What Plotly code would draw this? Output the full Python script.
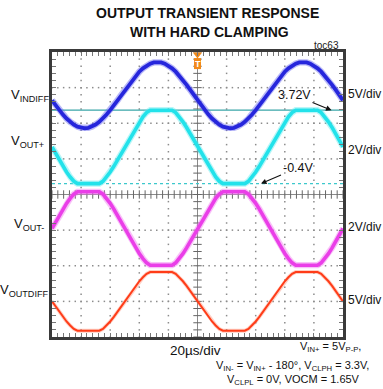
import plotly.graph_objects as go

# ---------------- data ----------------
TIME_US = [0, 2.5, 5, 7.5, 10, 12.5, 15, 17.5, 20, 22.5, 25, 27.5, 30, 32.5, 35, 37.5,
           40, 42.5, 45, 47.5, 50, 52.5, 55, 57.5, 60, 62.5, 65, 67.5, 70, 72.5, 75, 77.5,
           80, 82.5, 85, 87.5, 90, 92.5, 95, 97.5, 100, 102.5, 105, 107.5, 110, 112.5, 115,
           117.5, 120, 122.5, 125, 127.5, 130, 132.5, 135, 137.5, 140, 142.5, 145, 147.5,
           150, 152.5, 155, 157.5, 160, 162.5, 165, 167.5, 170, 172.5, 175, 177.5, 180,
           182.5, 185, 187.5, 190, 192.5, 195, 197.5, 200]

VINDIFF_V = [-0.73, -1.44, -2.11, -2.73, -3.29, -3.76, -4.14, -4.42, -4.59, -4.65,
             -4.59, -4.42, -4.14, -3.76, -3.29, -2.73, -2.11, -1.44, -0.73, 0.00,
             0.73, 1.44, 2.11, 2.73, 3.29, 3.76, 4.14, 4.42, 4.59, 4.65,
             4.59, 4.42, 4.14, 3.76, 3.29, 2.73, 2.11, 1.44, 0.73, 0.00,
             -0.73, -1.44, -2.11, -2.73, -3.29, -3.76, -4.14, -4.42, -4.59, -4.65,
             -4.59, -4.42, -4.14, -3.76, -3.29, -2.73, -2.11, -1.44, -0.73, 0.00,
             0.73, 1.44, 2.11, 2.73, 3.29, 3.76, 4.14, 4.42, 4.59, 4.65,
             4.59, 4.42, 4.14, 3.76, 3.29, 2.73, 2.11, 1.44, 0.73, 0.00, -0.73]

VOUT_P_V = [1.66, 1.29, 0.92, 0.57, 0.25, -0.03, -0.27, -0.40, -0.40, -0.40,
            -0.40, -0.40, -0.40, -0.40, -0.27, -0.03, 0.25, 0.57, 0.92, 1.29,
            1.66, 2.03, 2.40, 2.75, 3.07, 3.35, 3.59, 3.72, 3.72, 3.72,
            3.72, 3.72, 3.72, 3.72, 3.59, 3.35, 3.07, 2.75, 2.40, 2.03,
            1.66, 1.29, 0.92, 0.57, 0.25, -0.03, -0.27, -0.40, -0.40, -0.40,
            -0.40, -0.40, -0.40, -0.40, -0.27, -0.03, 0.25, 0.57, 0.92, 1.29,
            1.66, 2.03, 2.40, 2.75, 3.07, 3.35, 3.59, 3.72, 3.72, 3.72,
            3.72, 3.72, 3.72, 3.72, 3.59, 3.35, 3.07, 2.75, 2.40, 2.03, 1.66]

VOUT_M_V = [1.66, 2.03, 2.40, 2.75, 3.07, 3.35, 3.59, 3.72, 3.72, 3.72,
            3.72, 3.72, 3.72, 3.72, 3.59, 3.35, 3.07, 2.75, 2.40, 2.03,
            1.66, 1.29, 0.92, 0.57, 0.25, -0.03, -0.27, -0.40, -0.40, -0.40,
            -0.40, -0.40, -0.40, -0.40, -0.27, -0.03, 0.25, 0.57, 0.92, 1.29,
            1.66, 2.03, 2.40, 2.75, 3.07, 3.35, 3.59, 3.72, 3.72, 3.72,
            3.72, 3.72, 3.72, 3.72, 3.59, 3.35, 3.07, 2.75, 2.40, 2.03,
            1.66, 1.29, 0.92, 0.57, 0.25, -0.03, -0.27, -0.40, -0.40, -0.40,
            -0.40, -0.40, -0.40, -0.40, -0.27, -0.03, 0.25, 0.57, 0.92, 1.29, 1.66]

VOUTDIFF_V = [0.00, -0.74, -1.48, -2.18, -2.82, -3.38, -3.86, -4.12, -4.12, -4.12,
              -4.12, -4.12, -4.12, -4.12, -3.86, -3.38, -2.82, -2.18, -1.48, -0.74,
              0.00, 0.74, 1.48, 2.18, 2.82, 3.38, 3.86, 4.12, 4.12, 4.12,
              4.12, 4.12, 4.12, 4.12, 3.86, 3.38, 2.82, 2.18, 1.48, 0.74,
              0.00, -0.74, -1.48, -2.18, -2.82, -3.38, -3.86, -4.12, -4.12, -4.12,
              -4.12, -4.12, -4.12, -4.12, -3.86, -3.38, -2.82, -2.18, -1.48, -0.74,
              0.00, 0.74, 1.48, 2.18, 2.82, 3.38, 3.86, 4.12, 4.12, 4.12,
              4.12, 4.12, 4.12, 4.12, 3.86, 3.38, 2.82, 2.18, 1.48, 0.74, 0.00]

CLAMP_HIGH_V = 3.72
CLAMP_LOW_V = -0.4
VOLTS_PER_DIV = [5, 2, 2, 5]
CHANNEL_LABELS = ["V<sub>INDIFF</sub>", "V<sub>OUT+</sub>", "V<sub>OUT-</sub>", "V<sub>OUTDIFF</sub>"]
SCALE_LABELS = ["5V/div", "2V/div", "2V/div", "5V/div"]
TIME_LABEL = "20µs/div"

# ---------------- layout geometry / style ----------------
W, H = 383, 389
ML, MR, MT, MB = 52, 40, 52, 52
PW, PH = W - ML - MR, H - MT - MB
US_PER_DIV = 20
X_MAX = 10 * US_PER_DIV
OFFSETS_DIV = [2.79, 0.506, -1.784, -3.0]          # channel ground positions
COLORS = ["#2626dc", "#22e2ea", "#ea3ee8", "#ff3c18"]
HALO = ["rgba(100,100,240,0.45)", "rgba(100,235,240,0.45)", "rgba(240,120,240,0.45)", "rgba(255,120,90,0.35)"]
WIDTHS = [3.8, 3.6, 3.6, 2.0]
HALO_EXTRA = [2.6, 2.6, 2.6, 1.8]
FONT = "Liberation Sans, Arial, sans-serif"


def pp(px, py):
    return (px - ML) / PW, (H - MB - py) / PH


def to_div(v, ch):
    return OFFSETS_DIV[ch] + v / VOLTS_PER_DIV[ch]


fig = go.Figure()

# graticule dots
gx, gy = [], []
for k in range(1, 10):
    if k == 5:
        continue
    for m in range(0, 41):
        gx.append(k * US_PER_DIV)
        gy.append(-4 + m * 0.2)
for k in range(-3, 4):
    if k == 0:
        continue
    for m in range(0, 51):
        gx.append(m * US_PER_DIV / 5)
        gy.append(k)
fig.add_trace(go.Scatter(x=gx, y=gy, mode="markers", hoverinfo="skip",
                         marker=dict(symbol="square", size=1.5, color="#8c8c8c", line=dict(width=0))))

# center crosshair with ticks
fig.add_trace(go.Scatter(x=[0, X_MAX], y=[0, 0], mode="lines", line=dict(color="#8a8a8a", width=1), hoverinfo="skip"))
fig.add_trace(go.Scatter(x=[X_MAX / 2, X_MAX / 2], y=[-4, 4], mode="lines", line=dict(color="#8a8a8a", width=1), hoverinfo="skip"))
fig.add_trace(go.Scatter(x=[m * US_PER_DIV / 5 for m in range(51)], y=[0] * 51, mode="markers", hoverinfo="skip",
                         marker=dict(symbol="line-ns-open", size=6, color="#666", line=dict(color="#666", width=1))))
fig.add_trace(go.Scatter(x=[X_MAX / 2] * 41, y=[-4 + m * 0.2 for m in range(41)], mode="markers", hoverinfo="skip",
                         marker=dict(symbol="line-ew-open", size=6, color="#666", line=dict(color="#666", width=1))))

# cursor lines (clamp levels on VOUT+)
fig.add_trace(go.Scatter(x=[0, X_MAX], y=[to_div(CLAMP_HIGH_V, 1)] * 2, mode="lines",
                         line=dict(color="#3aa6a8", width=1.3), hoverinfo="skip"))
fig.add_trace(go.Scatter(x=[0, X_MAX], y=[to_div(CLAMP_LOW_V, 1)] * 2, mode="lines",
                         line=dict(color="#3cc8cc", width=1.3, dash="3px,3px"), hoverinfo="skip"))

# waveforms
for ch, vals in enumerate([VINDIFF_V, VOUT_P_V, VOUT_M_V, VOUTDIFF_V]):
    ys = [to_div(v, ch) for v in vals]
    fig.add_trace(go.Scatter(x=TIME_US, y=ys, mode="lines", hoverinfo="skip",
                             line=dict(color=HALO[ch], width=WIDTHS[ch] + HALO_EXTRA[ch])))
    fig.add_trace(go.Scatter(x=TIME_US, y=ys, mode="lines", hoverinfo="skip",
                             line=dict(color=COLORS[ch], width=WIDTHS[ch])))

ann = []
TITLE_FONT = dict(family="Liberation Sans Narrow, Liberation Sans, Arial", size=14, color="#111")
tx, ty = pp(207.5, 12.5)
ann.append(dict(text="<b>OUTPUT TRANSIENT RESPONSE</b>", x=tx, y=ty, xanchor="center", yanchor="middle",
                showarrow=False, font=TITLE_FONT))
tx, ty = pp(209, 31.5)
ann.append(dict(text="<b>WITH HARD CLAMPING</b>", x=tx, y=ty, xanchor="center", yanchor="middle",
                showarrow=False, font=TITLE_FONT))
tx, ty = pp(341, 46)
ann.append(dict(text="toc63", x=tx, y=ty, xanchor="right", yanchor="middle", showarrow=False,
                font=dict(family=FONT, size=10, color="#222")))

# channel labels
left_pos = [(51, 95.5), (46, 141.5), (46, 224), (51, 290.5)]
right_y = [93.5, 149.5, 226.5, 300]
for ch in range(4):
    lx, ly = pp(*left_pos[ch])
    ann.append(dict(text=CHANNEL_LABELS[ch], x=lx, y=ly, xanchor="right", yanchor="middle", showarrow=False,
                    font=dict(family=FONT, size=13, color="#111")))
    rx, ry = pp(346, right_y[ch])
    ann.append(dict(text=SCALE_LABELS[ch], x=rx, y=ry, xanchor="left", yanchor="middle", showarrow=False,
                    font=dict(family=FONT, size=12, color="#111")))

# clamp level callouts
ann.append(dict(text="%.2fV" % CLAMP_HIGH_V, x=(331.5 - ML) / PW * X_MAX, y=to_div(CLAMP_HIGH_V, 1),
                xref="x", yref="y", ax=-37, ay=-15, showarrow=True, arrowhead=2, arrowsize=1, arrowwidth=1.1,
                arrowcolor="#111", font=dict(family=FONT, size=12.5, color="#111")))
ann.append(dict(text="%.1fV" % CLAMP_LOW_V, x=(261 - ML) / PW * X_MAX, y=to_div(CLAMP_LOW_V, 1),
                xref="x", yref="y", ax=37, ay=-16, showarrow=True, arrowhead=2, arrowsize=1, arrowwidth=1.1,
                arrowcolor="#111", font=dict(family=FONT, size=12.5, color="#111")))

# time base and conditions
bx, by = pp(195, 350)
ann.append(dict(text=TIME_LABEL, x=bx, y=by, xanchor="center", yanchor="middle", showarrow=False,
                font=dict(family=FONT, size=13.5, color="#111")))
cond = [("V<sub>IN+</sub> = 5V<sub>P-P</sub>,", 363, 347.5),
        ("V<sub>IN-</sub> = V<sub>IN+</sub> - 180°, V<sub>CLPH</sub> = 3.3V,", 371, 365.5),
        ("V<sub>CLPL</sub> = 0V, VOCM = 1.65V", 362, 379.5)]
for t, cx, cy in cond:
    x0, y0 = pp(cx, cy)
    ann.append(dict(text=t, x=x0, y=y0, xanchor="right", yanchor="middle", showarrow=False,
                    font=dict(family=FONT, size=11, color="#111")))

# trigger marker
fig.add_trace(go.Scatter(x=[X_MAX / 2], y=[(194.4 - 54.5) / 35.625], mode="markers", hoverinfo="skip",
                         marker=dict(symbol="triangle-down", size=8, color="#f28a1a", line=dict(width=0))))
shapes = [dict(type="rect", xref="x", yref="y", x0=X_MAX / 2 - 2.4, x1=X_MAX / 2 + 2.4,
               y0=(194.4 - 69) / 35.625, y1=(194.4 - 58) / 35.625, fillcolor="#f28a1a", line=dict(width=0))]
ann.append(dict(text="<b>T</b>", x=X_MAX / 2, y=(194.4 - 63.5) / 35.625, xref="x", yref="y", showarrow=False,
                xanchor="center", yanchor="middle", font=dict(family=FONT, size=9, color="white")))

for a in ann:
    a.setdefault("xref", "paper")
    a.setdefault("yref", "paper")

fig.update_layout(
    width=W, height=H, margin=dict(l=ML, r=MR, t=MT, b=MB, autoexpand=False),
    paper_bgcolor="white", plot_bgcolor="white", showlegend=False,
    annotations=ann, shapes=shapes,
    xaxis=dict(range=[0, X_MAX], showgrid=False, zeroline=False, showticklabels=False,
               showline=True, linecolor="#3a3a3a", linewidth=2.5, mirror="ticks",
               ticks="inside", ticklen=4, tickcolor="#777", tickwidth=1, tick0=0, dtick=US_PER_DIV / 5),
    yaxis=dict(range=[-4, 4], showgrid=False, zeroline=False, showticklabels=False,
               showline=True, linecolor="#3a3a3a", linewidth=2.5, mirror="ticks",
               ticks="inside", ticklen=4, tickcolor="#777", tickwidth=1, tick0=0, dtick=0.2),
)

fig.write_html("out.html", config={"displayModeBar": False},
               post_script="document.body.style.margin='0px';document.body.style.overflow='hidden';")
